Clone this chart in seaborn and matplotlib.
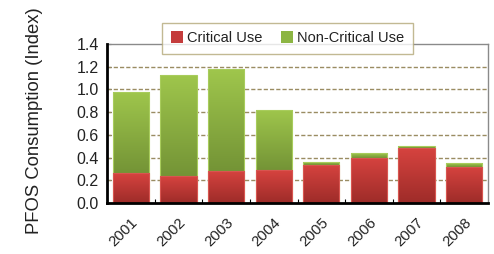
import numpy as np
import pandas as pd
import matplotlib
matplotlib.use('Agg')
import matplotlib.pyplot as plt
from matplotlib.colors import LinearSegmentedColormap
from matplotlib.patches import Patch
import seaborn as sns

years = ['2001', '2002', '2003', '2004', '2005', '2006', '2007', '2008']
critical = [0.26, 0.235, 0.285, 0.29, 0.335, 0.40, 0.48, 0.32]
total = [0.98, 1.13, 1.18, 0.82, 0.365, 0.44, 0.505, 0.355]
yticks = [0.0, 0.2, 0.4, 0.6, 0.8, 1.0, 1.2, 1.4]

df = pd.DataFrame({'year': years, 'critical': critical, 'total': total})

sns.set_theme(style='white')
plt.rcParams['font.family'] = ['Liberation Sans', 'DejaVu Sans']

fig = plt.figure(figsize=(4.94, 2.54), dpi=100)
ax = fig.add_axes([0.2166, 0.2008, 0.7713, 0.6260])

# green (total) first, red (critical) drawn on top
sns.barplot(data=df, x='year', y='total', color='#8cb543', width=0.76,
            saturation=1, ax=ax, zorder=3)
sns.barplot(data=df, x='year', y='critical', color='#c43c3c', width=0.76,
            saturation=1, ax=ax, zorder=4)

red_cmap = LinearSegmentedColormap.from_list('r', ['#9e2c29', '#d6433f'])
green_cmap = LinearSegmentedColormap.from_list('g', ['#749436', '#9fc64c'])
grad = np.linspace(0, 1, 64).reshape(-1, 1)

n = len(years)
patches = list(ax.patches)
for i, p in enumerate(patches):
    x0, w, h = p.get_x(), p.get_width(), p.get_height()
    if i < n:
        lo, cmap, z, ec = critical[i], green_cmap, 3.5, '#a8cc5c'
    else:
        lo, cmap, z, ec = 0, red_cmap, 4.5, '#d85550'
    im = ax.imshow(grad, cmap=cmap, aspect='auto', origin='lower',
                   extent=[x0, x0 + w, lo, h], zorder=z)
    im.set_clip_path(p)
    p.set_facecolor('none')
    p.set_edgecolor(ec)
    p.set_linewidth(0.8)
    p.set_zorder(z + 0.1)

ax.set_xlim(-0.5, n - 0.5)
ax.set_ylim(0, 1.4)
ax.set_yticks(yticks)
ax.set_yticklabels([f'{v:.1f}' for v in yticks], fontsize=11.5, color='#222222')
ax.set_xticks(range(n))
ax.set_xticklabels(years, rotation=45, ha='right', rotation_mode='anchor',
                   fontsize=10.8, color='#222222')
ax.set_xticks(np.arange(0.5, n - 0.5, 1), minor=True)
ax.tick_params(axis='x', which='major', length=0, pad=9)
ax.tick_params(axis='x', which='minor', direction='in', length=3,
               width=0.8, color='black', bottom=True)
ax.tick_params(axis='y', direction='in', length=3, width=0.8, color='black',
               left=True, pad=6)

for v in yticks[1:-1]:
    ax.axhline(v, color='#9a8c62', linestyle=(0, (3, 1.5)), linewidth=1,
               zorder=1)

ax.set_xlabel('')
ax.set_ylabel('PFOS Consumption (Index)', fontsize=13.3, color='#222222')
ax.yaxis.set_label_coords(-0.168, 0.52)

for side in ['left', 'bottom']:
    ax.spines[side].set_color('black')
    ax.spines[side].set_linewidth(2)
    ax.spines[side].set_zorder(6)
for side in ['top', 'right']:
    ax.spines[side].set_visible(True)
    ax.spines[side].set_color('#8a8a8a')
    ax.spines[side].set_linewidth(1)

handles = [Patch(facecolor='#c43c3c', edgecolor='none', label='Critical Use'),
           Patch(facecolor='#8cb543', edgecolor='none', label='Non-Critical Use')]
leg = ax.legend(handles=handles, loc='upper center', bbox_to_anchor=(0.474, 1.135),
                ncol=2, frameon=True, fancybox=False, fontsize=10.5,
                handlelength=0.8, handleheight=0.9, handletextpad=0.3,
                columnspacing=1.3, borderpad=0.6, borderaxespad=0)
leg.get_frame().set_edgecolor('#b3a878')
leg.get_frame().set_linewidth(1)
leg.set_zorder(10)
for t in leg.get_texts():
    t.set_color('#222222')

fig.savefig('out.png', dpi=100)
